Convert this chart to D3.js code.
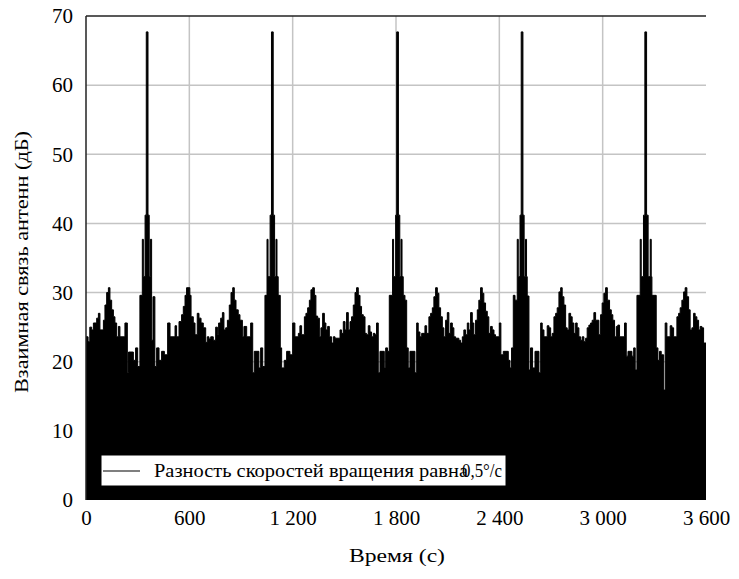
<!DOCTYPE html>
<html>
<head>
<meta charset="utf-8">
<script src="https://cdn.jsdelivr.net/npm/d3@7/dist/d3.min.js"></script>
<style>
  html, body { margin: 0; padding: 0; background: #fff; }
  svg { display: block; }
</style>
</head>
<body>
<svg id="chart" width="739" height="579"></svg>
<script>
// Mutual antenna coupling versus time, step-after breakpoints (s, dB)
const timeSec = [
  0, 12, 22, 33, 43, 62, 72, 81, 101, 110, 120, 130, 139, 149, 159, 168, 178, 188, 197, 226,
  240, 247, 275, 288, 300, 313, 327, 333, 343, 350, 360, 367, 374, 381, 389, 400, 410, 424, 439, 455,
  474, 488, 517, 526, 540, 555, 565, 575, 584, 603, 610, 623, 633, 646, 656, 668, 681, 695, 704, 714,
  724, 739, 753, 763, 770, 782, 792, 801, 811, 821, 832, 842, 852, 861, 871, 884, 894, 908, 917, 933,
  956, 968, 977, 1004, 1014, 1026, 1039, 1051, 1057, 1069, 1077, 1087, 1095, 1103, 1109, 1116, 1128, 1136, 1151, 1165,
  1184, 1200, 1213, 1233, 1242, 1252, 1268, 1277, 1287, 1297, 1306, 1316, 1326, 1335, 1345, 1355, 1364, 1374, 1384, 1393,
  1403, 1413, 1426, 1436, 1446,
  1475, 1484, 1494, 1504, 1513, 1523, 1533, 1542, 1552, 1562, 1571, 1581, 1591, 1600, 1610, 1620, 1629, 1639, 1649, 1658,
  1668, 1678, 1687, 1697, 1707, 1732, 1740, 1751, 1761, 1780, 1786, 1798, 1804, 1814, 1822, 1829, 1835, 1842, 1852, 1862,
  1871, 1881, 1910, 1920, 1929, 1939, 1949, 1968, 1978, 1991, 2001, 2011, 2020, 2030, 2040, 2049, 2059, 2069, 2078, 2088,
  2098, 2107, 2117, 2127, 2136, 2146, 2165, 2175, 2185, 2194, 2204, 2214, 2223, 2233, 2243, 2252, 2262, 2272, 2281, 2291,
  2301, 2310, 2320, 2330, 2339, 2349, 2359, 2369, 2378, 2400, 2409, 2423,
  2452, 2462, 2471, 2481, 2491, 2504, 2510, 2520, 2527, 2537, 2544, 2552, 2558, 2562, 2572, 2581, 2593, 2607, 2630, 2640,
  2649, 2659, 2678, 2688, 2698, 2707, 2717, 2727, 2736, 2746, 2756, 2765, 2775, 2785, 2794, 2804, 2814, 2823, 2833, 2843,
  2852, 2862, 2872, 2881, 2891, 2901, 2910, 2920, 2930, 2939, 2949, 2959, 2978, 2988, 2997, 3007, 3017, 3027,
  3040, 3050, 3059, 3069, 3079, 3088, 3098, 3127, 3137, 3147, 3170, 3180, 3189, 3199, 3218, 3224, 3237, 3245, 3255, 3264,
  3276, 3282, 3286, 3311, 3321, 3330, 3340, 3354, 3363, 3373, 3392, 3402, 3412, 3431, 3441, 3450, 3460, 3470, 3479, 3489,
  3499, 3508, 3518, 3528, 3537, 3547, 3557, 3566, 3576, 3586, 3600
];
const couplingDb = [
  23.6, 22.9, 25.0, 24.6, 25.6, 26.3, 27.0, 24.6, 26.0, 28.2, 30.0, 30.7, 28.9, 27.5, 26.5, 25.6, 23.6, 25.1, 23.6, 25.6,
  18.4, 21.4, 20.2, 22.0, 19.3, 29.6, 37.7, 32.3, 41.2, 67.7, 41.2, 32.3, 37.7, 23.1, 29.4, 19.3, 22.0, 20.2, 21.5, 21.0,
  25.6, 23.6, 25.2, 23.6, 25.8, 26.8, 28.0, 29.6, 30.7, 29.6, 26.5, 25.6, 23.9, 27.0, 26.3, 25.6, 24.9, 22.8, 23.6, 23.3,
  23.6, 23.1, 25.0, 23.9, 25.6, 26.3, 27.1, 24.6, 24.9, 26.0, 28.2, 30.0, 30.7, 28.9, 27.5, 26.8, 26.0, 23.6, 25.1, 23.6,
  25.6, 18.4, 21.5, 19.1, 22.0, 19.3, 29.6, 37.7, 32.3, 41.2, 67.7, 41.2, 32.3, 37.7, 32.3, 29.6, 22.0, 19.1, 20.2, 21.5,
  21.0, 25.6, 23.6, 24.1, 25.2, 23.9, 26.5, 27.0, 27.8, 28.9, 30.4, 30.7, 29.6, 26.6, 26.3, 23.6, 24.9, 27.0, 25.6, 24.6,
  25.1, 23.6, 22.7, 23.6, 23.4,
  24.6, 24.1, 25.8, 24.6, 27.1, 24.6, 25.8, 26.5, 28.2, 30.0, 30.7, 29.6, 28.0, 26.8, 26.5, 24.1, 23.9, 25.2, 24.3, 23.6,
  24.1, 23.9, 25.6, 18.4, 21.5, 19.1, 22.0, 21.5, 29.6, 37.7, 32.3, 41.2, 67.7, 41.2, 32.3, 37.7, 32.3, 29.6, 28.9, 22.0,
  19.1, 21.5, 18.4, 25.6, 24.3, 23.6, 24.1, 25.2, 24.1, 26.5, 27.0, 27.8, 29.4, 30.7, 29.9, 27.8, 26.5, 24.9, 23.6, 26.0,
  27.1, 24.1, 25.6, 24.9, 23.6, 23.4, 23.1, 22.7, 23.6, 24.6, 23.9, 25.6, 24.6, 27.1, 25.6, 23.9, 26.0, 27.5, 28.9, 30.7,
  29.9, 28.5, 27.3, 26.5, 24.1, 25.1, 24.6, 23.9, 23.6, 25.6, 21.0, 21.5,
  20.2, 19.1, 22.0, 29.6, 28.9, 37.7, 32.3, 41.2, 67.7, 41.2, 32.3, 37.7, 32.3, 29.5, 18.8, 22.0, 19.1, 21.5, 18.4, 25.6,
  24.6, 23.6, 25.2, 24.9, 23.6, 24.1, 26.5, 27.0, 27.8, 30.1, 30.7, 29.4, 28.2, 24.9, 24.6, 27.0, 26.5, 25.6, 24.1, 25.6,
  24.9, 23.6, 23.1, 23.6, 22.9, 23.4, 24.9, 25.3, 25.6, 26.0, 27.1, 26.0, 23.9, 26.8, 28.5, 29.9, 30.7, 28.9,
  27.5, 26.8, 26.0, 23.6, 25.1, 25.3, 23.6, 25.6, 20.8, 21.5, 20.8, 22.0, 18.8, 29.6, 37.7, 32.3, 41.2, 67.7, 41.2, 32.3,
  37.7, 32.3, 29.6, 22.0, 20.2, 21.5, 21.0, 15.9, 25.6, 23.6, 25.2, 24.9, 23.6, 26.5, 27.0, 27.8, 28.9, 30.1, 30.7, 29.4,
  27.5, 24.6, 24.9, 27.0, 26.5, 26.0, 24.6, 25.1, 24.9, 22.7, 22.7
];

const xTicks = [0, 600, 1200, 1800, 2400, 3000, 3600];
const yTicks = [0, 10, 20, 30, 40, 50, 60, 70];
const seriesName = "Разность скоростей вращения равна";
const seriesRate = "0,5°/с";
const xTitle = "Время (с)";
const yTitle = "Взаимная связь антенн (дБ)";

const FONT = "'Liberation Serif', 'Times New Roman', serif";
const svg = d3.select("#chart");
const plot = { left: 86, right: 706, top: 16, bottom: 500 };

const x = d3.scaleLinear().domain([0, 3600]).range([plot.left, plot.right]);
const y = d3.scaleLinear().domain([0, 70]).range([plot.bottom, plot.top]);

const fmt = d3.formatLocale({ decimal: ",", thousands: " ", grouping: [3], currency: ["", ""] }).format(",d");

// grid (interior lines only)
const grid = svg.append("g").attr("stroke", "#c4c4c4").attr("stroke-width", 1.5);
grid.selectAll("line.h").data(yTicks.filter(d => d > 0 && d < 70)).join("line")
  .attr("x1", plot.left).attr("x2", plot.right)
  .attr("y1", d => y(d)).attr("y2", d => y(d));
grid.selectAll("line.v").data(xTicks.filter(d => d > 0 && d < 3600)).join("line")
  .attr("x1", d => x(d)).attr("x2", d => x(d))
  .attr("y1", plot.top).attr("y2", plot.bottom);

// coupling trace
const pts = timeSec.map((t, i) => ({ t, v: couplingDb[i] }));
const area = d3.area().curve(d3.curveStepAfter)
  .x(d => x(d.t)).y0(y(0)).y1(d => y(d.v));
const line = d3.line().curve(d3.curveStepAfter)
  .x(d => x(d.t)).y(d => y(d.v));
svg.append("path").datum(pts).attr("d", area).attr("fill", "#000");
svg.append("path").datum(pts).attr("d", line).attr("fill", "none")
  .attr("stroke", "#000").attr("stroke-width", 1);

// frame
svg.append("line").attr("x1", plot.left).attr("x2", plot.right)
  .attr("y1", plot.top).attr("y2", plot.top).attr("stroke", "#222").attr("stroke-width", 1.5);
svg.append("line").attr("x1", plot.left).attr("x2", plot.left)
  .attr("y1", plot.top).attr("y2", plot.bottom).attr("stroke", "#222").attr("stroke-width", 1.5);

// axes
const yAxis = d3.axisLeft(y).tickValues(yTicks).tickSize(0).tickPadding(13).tickFormat(d3.format("d"));
const gy = svg.append("g").attr("transform", `translate(${plot.left},0)`).call(yAxis);
gy.select(".domain").remove();
gy.selectAll("text").style("font-family", FONT).style("font-size", "21px").attr("fill", "#000");

const xAxis = d3.axisBottom(x).tickValues(xTicks).tickSize(0).tickPadding(10).tickFormat(fmt);
const gx = svg.append("g").attr("transform", `translate(0,${plot.bottom})`).call(xAxis);
gx.select(".domain").remove();
gx.selectAll("text").style("font-family", FONT).style("font-size", "21px").attr("fill", "#000");

// titles
svg.append("text").attr("x", 397).attr("y", 562)
  .attr("text-anchor", "middle").style("font-family", FONT).style("font-size", "18px")
  .attr("textLength", 96).attr("lengthAdjust", "spacingAndGlyphs").text(xTitle);
svg.append("text").attr("transform", `translate(28,262) rotate(-90)`)
  .attr("text-anchor", "middle").style("font-family", FONT).style("font-size", "19px")
  .attr("textLength", 262).attr("lengthAdjust", "spacingAndGlyphs").text(yTitle);

// legend
const lg = svg.append("g");
lg.append("rect").attr("x", 101).attr("y", 455).attr("width", 405).attr("height", 31)
  .attr("fill", "#fff").attr("stroke", "#000").attr("stroke-width", 1);
lg.append("line").attr("x1", 103).attr("x2", 140).attr("y1", 471).attr("y2", 471)
  .attr("stroke", "#000").attr("stroke-width", 1.2);
lg.append("text").attr("x", 154).attr("y", 477).style("font-family", FONT).style("font-size", "19.5px")
  .attr("textLength", 314).attr("lengthAdjust", "spacingAndGlyphs").text(seriesName);
lg.append("text").attr("x", 462).attr("y", 477).style("font-family", FONT).style("font-size", "19.5px")
  .attr("textLength", 40).attr("lengthAdjust", "spacingAndGlyphs").text(seriesRate);
</script>
</body>
</html>
